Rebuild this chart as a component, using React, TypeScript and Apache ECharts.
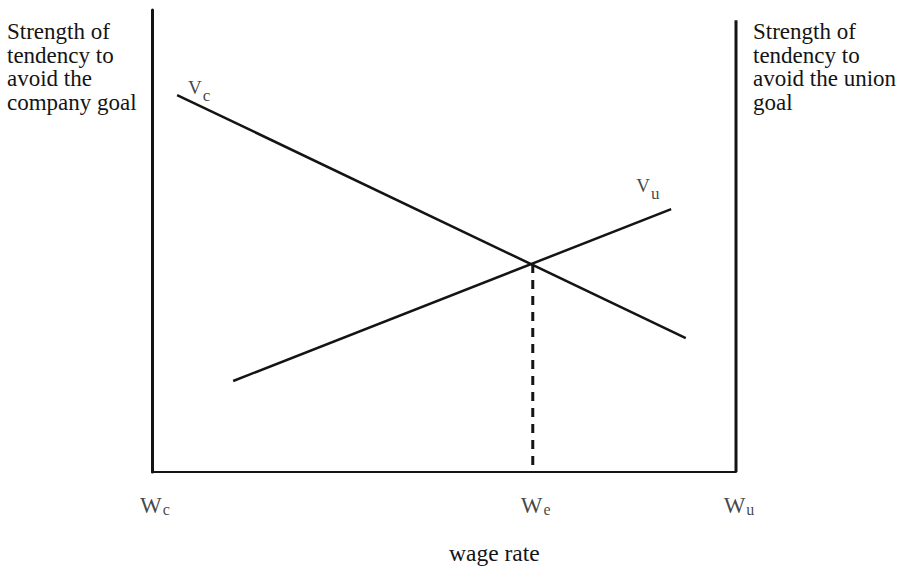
import React, { useEffect, useRef } from "react";
import * as echarts from "echarts";

// ---- data ----
const leftTitleLines = ["Strength of", "tendency to", "avoid the", "company goal"];
const rightTitleLines = ["Strength of", "tendency to", "avoid the union", "goal"];
const xAxisTitle = "wage rate";

const wageTickValues = [0, 65.2, 100];
const wageTickMain = ["W", "W", "W"];
const wageTickSub = ["c", "e", "u"];

const vcX = [4.3, 91.4];
const vcY = [81.6, 29.0];
const vuX = [13.9, 88.9];
const vuY = [19.7, 56.9];
const vcLabel = ["V", "c"];
const vuLabel = ["V", "u"];

const equilibriumX = [65.2, 65.2];
const equilibriumY = [45.0, 0];

const rightAxisX = [100, 100];
const rightAxisY = [0, 97.8];

const INK = "#141414";
const FONT = "'Liberation Serif', 'Times New Roman', serif";
const TITLE_SIZE = 23;
const TITLE_STEP = 23.5;

export default function App() {
  const ref = useRef<HTMLDivElement>(null);

  useEffect(() => {
    if (!ref.current) return;
    const chart = echarts.init(ref.current, undefined, { renderer: "svg" });

    const pairs = (xs: number[], ys: number[]) => xs.map((x, i) => [x, ys[i]]);

    const titleBlock = (lines: string[], left: number, top: number) =>
      lines.map((t, i) => ({
        type: "text",
        left,
        top: top + i * TITLE_STEP,
        style: {
          text: t,
          font: `${TITLE_SIZE}px ${FONT}`,
          lineHeight: TITLE_SIZE,
          fill: INK,
        },
      }));

    const option: any = {
      animation: false,
      backgroundColor: "#ffffff",
      grid: { left: 152, right: 176, top: 10, bottom: 96 },
      xAxis: {
        type: "value",
        min: 0,
        max: 100,
        axisLine: { show: true, lineStyle: { color: INK, width: 2 } },
        axisTick: { show: false },
        axisLabel: { show: false },
        splitLine: { show: false },
      },
      yAxis: {
        type: "value",
        min: 0,
        max: 100,
        axisLine: { show: true, lineStyle: { color: INK, width: 3 } },
        axisTick: { show: false },
        axisLabel: { show: false },
        splitLine: { show: false },
      },
      graphic: [
        ...titleBlock(leftTitleLines, 7, 20),
        ...titleBlock(rightTitleLines, 753, 20),
        {
          type: "text",
          left: 449,
          top: 541,
          style: {
            text: xAxisTitle,
            font: `23.5px ${FONT}`,
            fill: INK,
          },
        },
      ],
      series: [
        {
          type: "line",
          data: pairs(rightAxisX, rightAxisY),
          symbol: "none",
          lineStyle: { color: INK, width: 3 },
          silent: true,
        },
        {
          type: "line",
          data: pairs(vcX, vcY),
          symbol: "none",
          lineStyle: { color: INK, width: 2.5 },
          silent: true,
        },
        {
          type: "line",
          data: pairs(vuX, vuY),
          symbol: "none",
          lineStyle: { color: INK, width: 2.5 },
          silent: true,
        },
        {
          type: "line",
          data: pairs(equilibriumX, equilibriumY),
          symbol: "none",
          lineStyle: { color: INK, width: 3, type: [9, 7] },
          silent: true,
        },
        {
          type: "scatter",
          symbolSize: 0,
          silent: true,
          data: wageTickValues.map((x, i) => ({
            value: [x, 0],
            label: {
              show: true,
              position: "bottom",
              distance: 22,
              offset: [3, 0],
              formatter: `{m|${wageTickMain[i]}}{s|${wageTickSub[i]}}`,
              rich: {
                m: { fontFamily: FONT, fontSize: 23, lineHeight: 23, color: INK, verticalAlign: "bottom" },
                s: { fontFamily: FONT, fontSize: 16, lineHeight: 16, color: INK, verticalAlign: "bottom", padding: [0, 0, 0, 1] },
              },
            },
          })),
        },
        {
          type: "scatter",
          symbolSize: 0,
          silent: true,
          data: [
            {
              value: [vcX[0], vcY[0]],
              label: {
                show: true,
                position: [11, -17],
                formatter: `{v|${vcLabel[0]}}{s|${vcLabel[1]}}`,
                rich: {
                  v: { fontFamily: FONT, fontSize: 19, lineHeight: 19, color: INK, verticalAlign: "top" },
                  s: { fontFamily: FONT, fontSize: 17, lineHeight: 17, color: INK, verticalAlign: "top", padding: [9, 0, 0, 1] },
                },
              },
            },
            {
              value: [vuX[1], vuY[1]],
              label: {
                show: true,
                position: [-35, -33],
                formatter: `{v|${vuLabel[0]}}{s|${vuLabel[1]}}`,
                rich: {
                  v: { fontFamily: FONT, fontSize: 19, lineHeight: 19, color: INK, verticalAlign: "top" },
                  s: { fontFamily: FONT, fontSize: 17, lineHeight: 17, color: INK, verticalAlign: "top", padding: [9, 0, 0, 1] },
                },
              },
            },
          ],
        },
      ],
    };

    chart.setOption(option);
    return () => chart.dispose();
  }, []);

  return (
    <div
      ref={ref}
      style={{ position: "fixed", left: 0, top: 0, width: 912, height: 568, background: "#fff" }}
    />
  );
}
